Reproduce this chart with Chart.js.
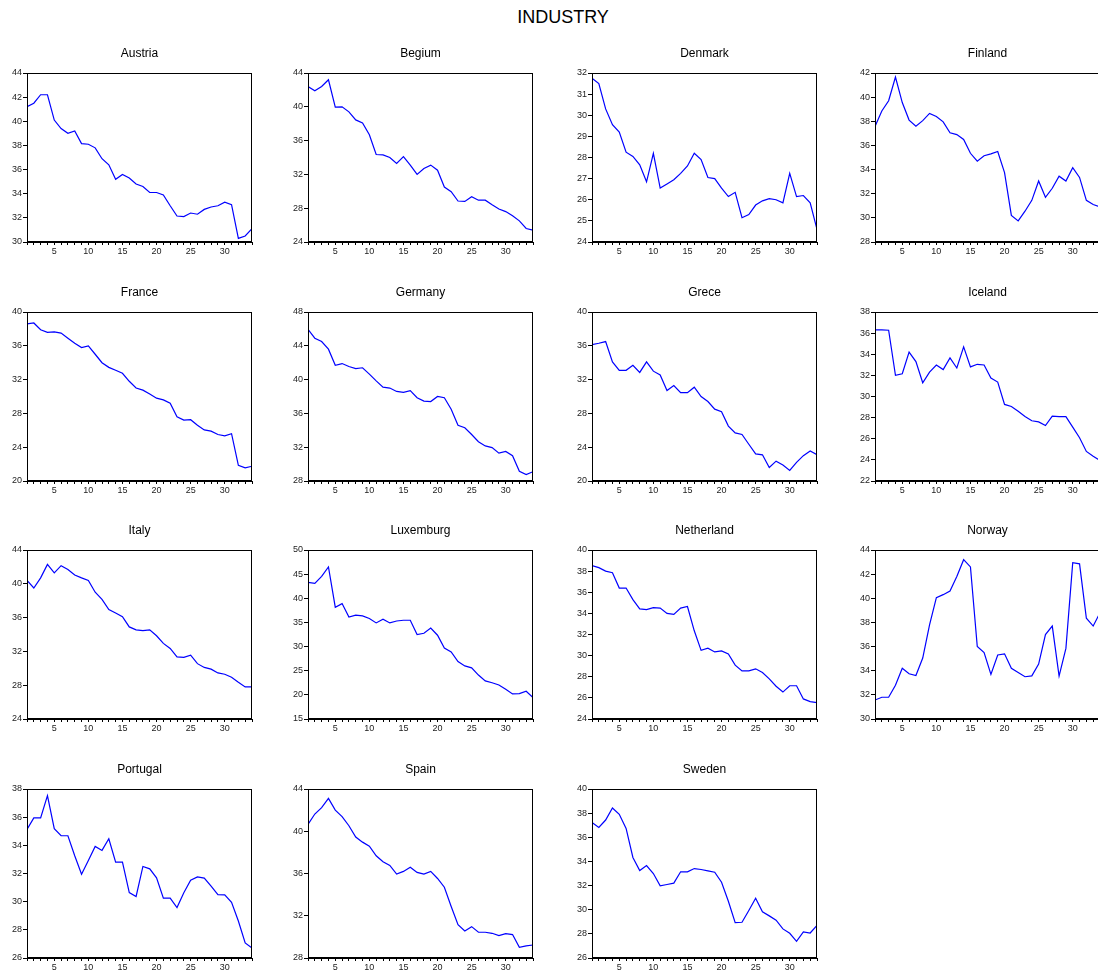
<!DOCTYPE html>
<html>
<head>
<meta charset="utf-8">
<title>INDUSTRY</title>
<script src="https://cdn.jsdelivr.net/npm/chart.js@4.4.1/dist/chart.umd.min.js"></script>
<style>
  html, body { margin: 0; padding: 0; background: #fff; }
  #page { position: relative; width: 1098px; height: 972px; overflow: hidden; }
  #main-title {
    position: absolute; left: 0; width: 1126px; top: 7px;
    text-align: center; font: 18px Arial, "Liberation Sans", sans-serif; color: #000;
  }
  .panel { position: absolute; }
</style>
</head>
<body>
<div id="page">
  <div id="main-title">INDUSTRY</div>
</div>
<script>
// observation index on the x axis
const periods = [1, 2, 3, 4, 5, 6, 7, 8, 9, 10, 11, 12, 13, 14, 15, 16, 17,
                 18, 19, 20, 21, 22, 23, 24, 25, 26, 27, 28, 29, 30, 31, 32, 33, 34];

const countries = ['Austria', 'Begium', 'Denmark', 'Finland',
                   'France', 'Germany', 'Grece', 'Iceland',
                   'Italy', 'Luxemburg', 'Netherland', 'Norway',
                   'Portugal', 'Spain', 'Sweden'];

const austria = [41.2, 41.5, 42.2, 42.2, 40.1, 39.4, 39.0, 39.2, 38.15, 38.1, 37.8, 36.9, 36.4, 35.2, 35.6, 35.3, 34.8,
                 34.6, 34.1, 34.1, 33.9, 33.0, 32.15, 32.1, 32.4, 32.3, 32.7, 32.9, 33.0, 33.3, 33.1, 30.3, 30.5, 31.1];
const begium = [42.4, 41.9, 42.4, 43.2, 39.95, 40.0, 39.4, 38.45, 38.1, 36.7, 34.35, 34.3, 34.0, 33.3, 34.1, 33.1, 32.0,
                32.7, 33.1, 32.5, 30.5, 29.95, 28.85, 28.8, 29.35, 28.95, 28.95, 28.4, 27.9, 27.6, 27.1, 26.5, 25.6, 25.4];
const denmark = [31.75, 31.5, 30.3, 29.55, 29.2, 28.25, 28.05, 27.65, 26.85, 28.2, 26.55, 26.75, 26.95, 27.25, 27.6, 28.2, 27.9,
                 27.05, 27.0, 26.55, 26.15, 26.35, 25.15, 25.3, 25.75, 25.95, 26.05, 26.0, 25.85, 27.25, 26.15, 26.2, 25.85, 24.6];
const finland = [37.56, 38.85, 39.7, 41.67, 39.55, 38.1, 37.6, 38.05, 38.65, 38.4, 37.95, 37.05, 36.9, 36.5, 35.35, 34.7, 35.15,
                 35.3, 35.5, 33.75, 30.2, 29.75, 30.55, 31.45, 33.05, 31.7, 32.45, 33.45, 33.05, 34.15, 33.35, 31.45, 31.1, 30.9];
const france = [38.6, 38.7, 37.9, 37.6, 37.65, 37.5, 36.9, 36.3, 35.8, 36.0, 35.0, 34.0, 33.45, 33.1, 32.75, 31.8, 31.0,
                30.75, 30.3, 29.8, 29.6, 29.2, 27.6, 27.2, 27.25, 26.6, 26.05, 25.9, 25.5, 25.35, 25.6, 21.85, 21.55, 21.75];
const germany = [45.95, 44.9, 44.5, 43.6, 41.7, 41.9, 41.55, 41.3, 41.4, 40.65, 39.85, 39.1, 39.0, 38.6, 38.5, 38.7, 37.85,
                 37.45, 37.4, 38.0, 37.85, 36.5, 34.6, 34.3, 33.5, 32.65, 32.15, 31.95, 31.3, 31.5, 31.0, 29.15, 28.75, 29.1];
const grece = [36.13, 36.3, 36.5, 34.1, 33.1, 33.1, 33.7, 32.85, 34.1, 33.0, 32.55, 30.7, 31.3, 30.45, 30.45, 31.1, 30.0,
               29.4, 28.5, 28.2, 26.5, 25.7, 25.5, 24.35, 23.2, 23.1, 21.6, 22.35, 21.9, 21.25, 22.2, 23.0, 23.55, 23.1];
const iceland = [36.3, 36.3, 36.27, 32.0, 32.15, 34.2, 33.3, 31.3, 32.3, 32.98, 32.55, 33.65, 32.7, 34.7, 32.8, 33.05, 32.98,
                 31.75, 31.37, 29.25, 29.05, 28.6, 28.1, 27.7, 27.6, 27.25, 28.15, 28.1, 28.1, 27.1, 26.1, 24.8, 24.35, 23.95];
const italy = [40.4, 39.5, 40.7, 42.3, 41.3, 42.15, 41.7, 41.05, 40.7, 40.4, 39.0, 38.15, 36.95, 36.55, 36.1, 34.9, 34.55,
               34.45, 34.55, 33.85, 32.95, 32.35, 31.35, 31.3, 31.55, 30.55, 30.1, 29.9, 29.45, 29.3, 28.95, 28.35, 27.8, 27.8];
const luxemburg = [43.3, 43.1, 44.55, 46.5, 38.15, 38.9, 36.1, 36.5, 36.35, 35.8, 34.9, 35.65, 34.9, 35.3, 35.45, 35.45, 32.5,
                   32.75, 33.85, 32.35, 29.7, 28.9, 26.9, 26.0, 25.6, 24.1, 22.9, 22.5, 22.05, 21.15, 20.2, 20.25, 20.75, 19.45];
const netherland = [38.52, 38.33, 38.0, 37.85, 36.4, 36.4, 35.3, 34.42, 34.36, 34.55, 34.5, 34.0, 33.9, 34.5, 34.65, 32.35, 30.5,
                    30.7, 30.35, 30.45, 30.15, 29.1, 28.55, 28.55, 28.75, 28.4, 27.8, 27.1, 26.55, 27.15, 27.15, 25.9, 25.65, 25.55];
const norway = [31.57, 31.8, 31.8, 32.8, 34.2, 33.75, 33.6, 35.05, 37.8, 40.05, 40.3, 40.6, 41.8, 43.2, 42.6, 36.0, 35.5,
                33.7, 35.3, 35.4, 34.2, 33.85, 33.5, 33.57, 34.55, 37.0, 37.7, 33.55, 35.85, 42.95, 42.85, 38.35, 37.7, 38.8];
const portugal = [35.13, 35.95, 35.95, 37.53, 35.18, 34.68, 34.68, 33.26, 31.95, 32.93, 33.92, 33.64, 34.47, 32.81, 32.81, 30.65, 30.37,
                  32.5, 32.33, 31.69, 30.25, 30.25, 29.58, 30.63, 31.53, 31.76, 31.67, 31.1, 30.5, 30.48, 29.96, 28.63, 27.07, 26.71];
const spain = [40.65, 41.63, 42.23, 43.11, 42.0, 41.38, 40.52, 39.45, 38.97, 38.59, 37.68, 37.11, 36.76, 35.94, 36.2, 36.6, 36.1,
               35.94, 36.2, 35.53, 34.7, 32.87, 31.16, 30.56, 30.97, 30.44, 30.44, 30.34, 30.12, 30.31, 30.22, 29.01, 29.14, 29.23];
const sweden = [37.23, 36.82, 37.43, 38.42, 37.9, 36.73, 34.33, 33.25, 33.66, 33.0, 31.98, 32.09, 32.2, 33.14, 33.14, 33.41, 33.33,
                33.22, 33.11, 32.28, 30.7, 28.93, 28.96, 29.93, 30.95, 29.82, 29.49, 29.13, 28.41, 28.05, 27.38, 28.16, 28.07, 28.71];

const series = [austria, begium, denmark, finland, france, germany, grece, iceland,
                italy, luxemburg, netherland, norway, portugal, spain, sweden];

// y axis tick range per panel: [first tick, last tick, step]
const yTickMin  = [30, 24, 24, 28, 20, 28, 20, 22, 24, 15, 24, 30, 26, 28, 26];
const yTickMax  = [44, 44, 32, 42, 40, 48, 40, 38, 44, 50, 40, 44, 38, 44, 40];
const yTickStep = [ 2,  4,  1,  2,  4,  4,  4,  2,  4,  5,  2,  2,  2,  4,  2];
const xLabelEvery = 5;

// layout of the grid (plot frame positions in px)
const colLeft = [27, 308, 592, 875];
const rowTop = [73, 312, 550, 789];
const plotW = 225, plotH = 169;
const axisW = 28, titleH = 30, xAxisH = 16, padR = 2;

const FONT = 'Arial, "Liberation Sans", sans-serif';

// draws the closed box round the plot area
const framePlugin = {
    id: 'frame',
    afterDraw(chart) {
        const a = chart.chartArea;
        const ctx = chart.ctx;
        ctx.save();
        ctx.strokeStyle = '#000';
        ctx.lineWidth = 1;
        ctx.strokeRect(Math.round(a.left) + 0.5, Math.round(a.top) + 0.5,
                       Math.round(a.right - a.left) - 1, Math.round(a.bottom - a.top) - 1);
        ctx.restore();
    }
};

const page = document.getElementById('page');

countries.forEach(function(name, i) {
    const col = i % 4, row = Math.floor(i / 4);
    const box = document.createElement('div');
    box.className = 'panel';
    const w = axisW + plotW + padR, h = titleH + plotH + xAxisH;
    box.style.left = (colLeft[col] - axisW) + 'px';
    box.style.top = (rowTop[row] - titleH) + 'px';
    box.style.width = w + 'px';
    box.style.height = h + 'px';
    const canvas = document.createElement('canvas');
    canvas.width = w;
    canvas.height = h;
    box.appendChild(canvas);
    page.appendChild(box);

    new Chart(canvas.getContext('2d'), {
        type: 'line',
        data: {
            labels: periods,
            datasets: [{
                data: periods.map(function(p, k) { return { x: p, y: series[i][k] }; }),
                borderColor: '#0000ff',
                borderWidth: 1.2,
                pointRadius: 0,
                fill: false,
                tension: 0
            }]
        },
        options: {
            responsive: false,
            animation: false,
            devicePixelRatio: 1,
            layout: { padding: { left: 0, right: padR, top: 0, bottom: 0 } },
            plugins: {
                legend: { display: false },
                tooltip: { enabled: false },
                title: {
                    display: true,
                    fullSize: false,
                    text: name,
                    color: '#000',
                    font: { family: FONT, size: 12, weight: 'normal', lineHeight: 1 },
                    padding: { top: 5, bottom: 13 }
                }
            },
            scales: {
                x: {
                    type: 'linear',
                    min: periods[0],
                    max: periods[periods.length - 1],
                    afterFit: function(scale) { scale.height = xAxisH; },
                    border: { display: true, color: '#000', width: 1 },
                    grid: { display: true, drawOnChartArea: false, drawTicks: true, tickLength: 3, color: '#000' },
                    ticks: {
                        stepSize: 1,
                        autoSkip: false,
                        maxRotation: 0,
                        padding: 1,
                        color: '#222',
                        font: { family: FONT, size: 9 },
                        callback: function(v) { return v % xLabelEvery === 0 ? String(v) : ''; }
                    }
                },
                y: {
                    min: yTickMin[i],
                    max: yTickMax[i],
                    afterFit: function(scale) { scale.width = axisW; },
                    border: { display: true, color: '#000', width: 1 },
                    grid: { display: true, drawOnChartArea: false, drawTicks: true, tickLength: 4, color: '#000' },
                    ticks: {
                        stepSize: yTickStep[i],
                        autoSkip: false,
                        padding: 1,
                        color: '#222',
                        font: { family: FONT, size: 9 }
                    }
                }
            }
        },
        plugins: [framePlugin]
    });
});
</script>
</body>
</html>
